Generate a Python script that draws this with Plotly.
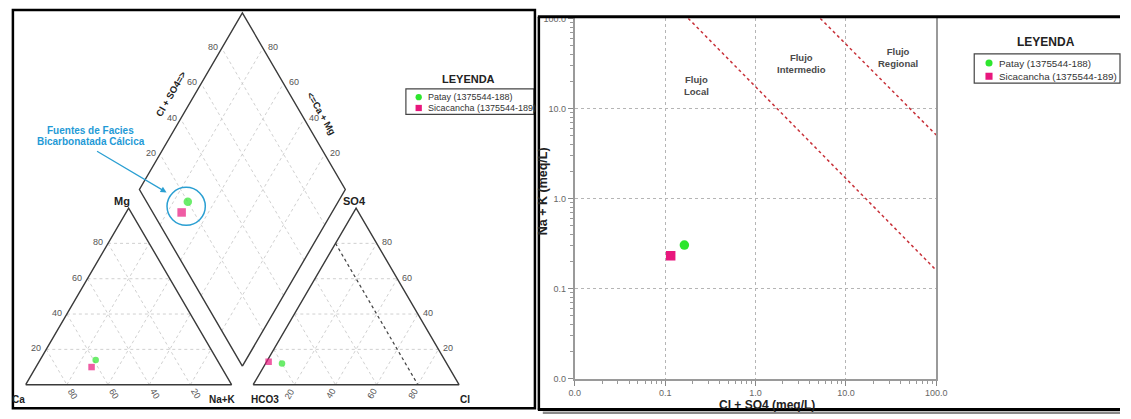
import math
import plotly.graph_objects as go

W, H = 1131, 419
FONT = "Arial, Liberation Sans, sans-serif"

# ---------------- data ----------------
samples = ["Patay (1375544-188)", "Sicacancha (1375544-189)"]
sample_colors = ["#2ee62e", "#e8177d"]
sample_symbols = ["circle", "square"]

# cations, % meq
ca_pct = [59, 63]
mg_pct = [14, 10]
nak_pct = [27, 27]
# anions, % meq
hco3_pct = [80, 86]
so4_pct = [12, 13]
cl_pct = [8, 1]

# concentrations, meq/L
cl_so4_meq = [0.163, 0.115]
na_k_meq = [0.305, 0.233]

# flow-system limits on the log-log plot
limit_local_x = [0.18, 100.0]
limit_local_y = [100.0, 0.16]
limit_regional_x = [5.2, 100.0]
limit_regional_y = [100.0, 5.07]

flow_labels = ["Flujo<br>Local", "Flujo<br>Intermedio", "Flujo<br>Regional"]
flow_label_x = [0.224, 3.2, 38.0]
flow_label_y = [17.8, 31.6, 36.6]

grid_pct = [20, 40, 60, 80]

# ---------------- Piper geometry ----------------
S60 = math.sqrt(3) / 2
GAP = 10.5
BX, BY = 100 + GAP / 2, GAP * S60  # lower vertex of the diamond


def cation_xy(ca, mg, nak):
    return nak + mg / 2, mg * S60


def anion_xy(hco3, so4, cl):
    return 100 + GAP + cl + so4 / 2, so4 * S60


def diamond_xy(nak, cl_so4):
    camg = 100 - nak
    return BX + (cl_so4 - camg) / 2, BY + (cl_so4 + camg) * S60


def polyline(points_list):
    xs, ys = [], []
    for pts in points_list:
        for p in pts:
            xs.append(p[0])
            ys.append(p[1])
        xs.append(None)
        ys.append(None)
    return xs, ys


# pixel placement of the Piper frame
K = 2.09          # px per percent unit
PX0, PY0 = 20, 389


def px(x, y):
    """pixel -> paper coordinates"""
    return x / W, 1 - y / H


fig = go.Figure()

# outlines
outline = [
    [cation_xy(100, 0, 0), cation_xy(0, 0, 100), cation_xy(0, 100, 0), cation_xy(100, 0, 0)],
    [anion_xy(100, 0, 0), anion_xy(0, 0, 100), anion_xy(0, 100, 0), anion_xy(100, 0, 0)],
    [diamond_xy(100, 0), diamond_xy(100, 100), diamond_xy(0, 100), diamond_xy(0, 0), diamond_xy(100, 0)],
]

# grids
grid = []
for k in grid_pct:
    grid.append([cation_xy(100 - k, k, 0), cation_xy(0, k, 100 - k)])
    grid.append([cation_xy(k, 100 - k, 0), cation_xy(k, 0, 100 - k)])
    grid.append([cation_xy(100 - k, 0, k), cation_xy(0, 100 - k, k)])
    grid.append([anion_xy(100 - k, k, 0), anion_xy(0, k, 100 - k)])
    grid.append([anion_xy(100 - k, 0, k), anion_xy(0, 100 - k, k)])
    grid.append([anion_xy(k, 100 - k, 0), anion_xy(k, 0, 100 - k)])
    grid.append([diamond_xy(100, k), diamond_xy(0, k)])
    grid.append([diamond_xy(k, 0), diamond_xy(k, 100)])

gx, gy = polyline(grid)
fig.add_trace(go.Scatter(x=gx, y=gy, mode="lines", xaxis="x", yaxis="y",
                         line=dict(color="#c4c4c4", width=0.8, dash="dot"),
                         hoverinfo="skip"))

# HCO3 = 20 reference line
hx, hy = polyline([[anion_xy(20, 80, 0), anion_xy(20, 0, 80)]])
fig.add_trace(go.Scatter(x=hx, y=hy, mode="lines", xaxis="x", yaxis="y",
                         line=dict(color="#444444", width=1.2, dash="dot"),
                         hoverinfo="skip"))

ox, oy = polyline(outline)
fig.add_trace(go.Scatter(x=ox, y=oy, mode="lines", xaxis="x", yaxis="y",
                         line=dict(color="#3a3a3a", width=1.4), hoverinfo="skip"))

# sample points in the Piper diagram
diamond_pts = []
for i, name in enumerate(samples):
    c = cation_xy(ca_pct[i], mg_pct[i], nak_pct[i])
    a = anion_xy(hco3_pct[i], so4_pct[i], cl_pct[i])
    d = diamond_xy(nak_pct[i], cl_pct[i] + so4_pct[i])
    diamond_pts.append(d)
    fig.add_trace(go.Scatter(
        x=[c[0], a[0], d[0]], y=[c[1], a[1], d[1]], mode="markers",
        xaxis="x", yaxis="y", name=name,
        marker=dict(color=sample_colors[i], symbol=sample_symbols[i],
                    size=[6.5, 6.5, 8.5], line=dict(width=0))))

# ---------------- log-log plot ----------------
for lx, ly in [(limit_local_x, limit_local_y), (limit_regional_x, limit_regional_y)]:
    fig.add_trace(go.Scatter(x=lx, y=ly, mode="lines", xaxis="x2", yaxis="y2",
                             line=dict(color="#c8323a", width=1.5, dash="dot"),
                             hoverinfo="skip"))

for i, name in enumerate(samples):
    fig.add_trace(go.Scatter(
        x=[cl_so4_meq[i]], y=[na_k_meq[i]], mode="markers", xaxis="x2", yaxis="y2",
        name=name,
        marker=dict(color=sample_colors[i], symbol=sample_symbols[i], size=9.5,
                    line=dict(width=0))))

shapes = []
annotations = []


def ann_px(x, y, text, size=9, color="#333333", bold=False, angle=0,
           xanchor="center", yanchor="middle"):
    xp, yp = px(x, y)
    annotations.append(dict(
        x=xp, y=yp, xref="paper", yref="paper", text=f"<b>{text}</b>" if bold else text,
        showarrow=False, textangle=angle, xanchor=xanchor, yanchor=yanchor,
        font=dict(family=FONT, size=size, color=color)))


def ann_piper(pt, text, size=9, color="#555555", bold=False, angle=0,
              xanchor="center", xshift=0, yshift=0):
    annotations.append(dict(
        x=pt[0], y=pt[1], xref="x", yref="y", text=f"<b>{text}</b>" if bold else text,
        showarrow=False, textangle=angle, xanchor=xanchor, yanchor="middle",
        xshift=xshift, yshift=yshift, font=dict(family=FONT, size=size, color=color)))


# Piper tick labels
for k in grid_pct:
    ann_piper(cation_xy(100 - k, k, 0), str(k), xanchor="right", xshift=-3, yshift=1)
    ann_piper(cation_xy(k, 0, 100 - k), str(k), angle=60, xshift=6, yshift=-9)
    ann_piper(anion_xy(0, k, 100 - k), str(k), xanchor="left", xshift=3, yshift=1)
    ann_piper(anion_xy(100 - k, 0, k), str(k), angle=-60, xshift=-5, yshift=-9)
    ann_piper(diamond_xy(0, k), str(k), xanchor="right", xshift=-2, yshift=1)
    ann_piper(diamond_xy(100 - k, 100), str(k), xanchor="left", xshift=3, yshift=1)

# Piper vertex and side titles
ann_piper(cation_xy(0, 100, 0), "Mg", size=11, color="#222", bold=True, xshift=-7, yshift=7)
ann_piper(anion_xy(0, 100, 0), "SO4", size=11, color="#222", bold=True, xshift=-2, yshift=7)
ann_piper(cation_xy(100, 0, 0), "Ca", size=10, color="#222", bold=True, xshift=-7, yshift=-15)
ann_piper(cation_xy(0, 0, 100), "Na+K", size=10, color="#222", bold=True, xshift=-9, yshift=-15)
ann_piper(anion_xy(100, 0, 0), "HCO3", size=10, color="#222", bold=True, xshift=12, yshift=-15)
ann_piper(anion_xy(0, 0, 100), "Cl", size=10, color="#222", bold=True, xshift=6, yshift=-15)
ann_piper(diamond_xy(0, 50), "Cl + SO4=>", size=9.5, color="#222", bold=True, angle=-60,
          xshift=-20, yshift=8)
ann_piper(diamond_xy(50, 100), "<=Ca + Mg", size=9.5, color="#222", bold=True, angle=60,
          xshift=28, yshift=-12)

# facies highlight around the diamond points
cx = sum(p[0] for p in diamond_pts) / len(diamond_pts) + 0.7
cy = sum(p[1] for p in diamond_pts) / len(diamond_pts) + 0.4
R = 9.3
shapes.append(dict(type="circle", xref="x", yref="y", x0=cx - R, x1=cx + R,
                   y0=cy - R, y1=cy + R, line=dict(color="#2a9fd2", width=1.5)))
BLUE = "#1f9ad6"
ann_px(86, 128.5, "Fuentes de Facies", size=10, color=BLUE, bold=True)
ann_px(86, 139.5, "Bicarbonatada Cálcica", size=10, color=BLUE, bold=True)
hx_p, hy_p = px(163, 192)
annotations.append(dict(x=hx_p, y=hy_p, xref="paper", yref="paper", text="",
                        showarrow=True, ax=-71, ay=-42, arrowhead=2, arrowsize=1,
                        arrowwidth=1.2, arrowcolor="#2a9fd2"))

# flow-zone labels on the log plot
for t, fx, fy in zip(flow_labels, flow_label_x, flow_label_y):
    annotations.append(dict(x=math.log10(fx), y=math.log10(fy), xref="x2", yref="y2",
                            text=f"<b>{t}</b>", showarrow=False,
                            font=dict(family=FONT, size=9.5, color="#4a4a4a")))

# axis titles of the log plot
ann_px(773, 409.5, "Cl + SO4 (meq/L)", size=12, color="#222", bold=True)
ann_px(546, 191, "Na + K (meq/L)", size=12.5, color="#222", bold=True, angle=-90)


# legends
def legend_block(title_xy, box, item_x, item_ys, text_x, title_size, text_size, r):
    ann_px(title_xy[0], title_xy[1], "LEYENDA", size=title_size, color="#222", bold=True)
    x0, y0, x1, y1 = box
    a0 = px(x0, y1)
    a1 = px(x1, y0)
    shapes.append(dict(type="rect", xref="paper", yref="paper", x0=a0[0], y0=a0[1],
                       x1=a1[0], y1=a1[1], line=dict(color="#444", width=1.2),
                       fillcolor="white", layer="below"))
    for i, name in enumerate(samples):
        yy = item_ys[i]
        p0 = px(item_x - r, yy + r)
        p1 = px(item_x + r, yy - r)
        shapes.append(dict(type="circle" if sample_symbols[i] == "circle" else "rect",
                           xref="paper", yref="paper", x0=p0[0], y0=p0[1], x1=p1[0], y1=p1[1],
                           line=dict(width=0), fillcolor=sample_colors[i]))
        ann_px(text_x, yy, name, size=text_size, color="#333", xanchor="left")


legend_block((470, 76), (406, 86, 536, 112), 419, [94.5, 105.5], 426, 11, 9, 3.2)
legend_block((1056, 38), (983, 50, 1131, 80), 998, [59.5, 73], 1006, 12, 9.8, 3.6)

# panel frames
lp0 = px(7, 413)
lp1 = px(537, 5)
shapes.append(dict(type="rect", xref="paper", yref="paper", x0=lp0[0], y0=lp0[1],
                   x1=lp1[0], y1=lp1[1], line=dict(color="black", width=2.5)))
for (xa, ya, xb, yb, w) in [(540, 12, 1131, 12, 3), (541, 12, 541, 415, 2.5),
                            (540, 414.5, 1131, 414.5, 3)]:
    a = px(xa, ya)
    b = px(xb, yb)
    shapes.append(dict(type="line", xref="paper", yref="paper", x0=a[0], y0=a[1],
                       x1=b[0], y1=b[1], line=dict(color="black", width=w)))
g0 = px(545, 419)
g1 = px(1131, 416.5)
shapes.append(dict(type="rect", xref="paper", yref="paper", x0=g0[0], y0=g0[1],
                   x1=g1[0], y1=g1[1], line=dict(width=0), fillcolor="#8a8a8a"))

# ---------------- layout ----------------
log_axis_common = dict(
    type="log", range=[-2, 2], dtick=1, tickformat=".1f",
    ticks="outside", ticklen=5, tickwidth=1, tickcolor="#888",
    tickfont=dict(family=FONT, size=9, color="#666"),
    showline=True, linecolor="#9a9a9a", mirror=True,
    showgrid=True, gridcolor="#b5b5b5", griddash="dot", gridwidth=1,
    zeroline=False, fixedrange=True,
    minor=dict(ticks="outside", ticklen=3, tickcolor="#999", dtick="D1", showgrid=False),
)

fig.update_layout(
    width=W, height=H, margin=dict(l=0, r=0, t=0, b=0),
    paper_bgcolor="white", plot_bgcolor="rgba(0,0,0,0)",
    showlegend=False,
    font=dict(family=FONT),
    xaxis=dict(domain=[0, 537 / W], range=[-PX0 / K, (537 - PX0) / K], visible=False,
               fixedrange=True),
    yaxis=dict(domain=[0, 1], range=[-(H - PY0) / K, PY0 / K], visible=False,
               fixedrange=True),
    xaxis2=dict(domain=[577.5 / W, 944.5 / W], anchor="y2", linewidth=1.5, **log_axis_common),
    yaxis2=dict(domain=[(H - 383) / H, (H - 13.7) / H], anchor="x2", linewidth=2,
                **log_axis_common),
    shapes=shapes,
    annotations=annotations,
)

fig.write_html("out.html")
